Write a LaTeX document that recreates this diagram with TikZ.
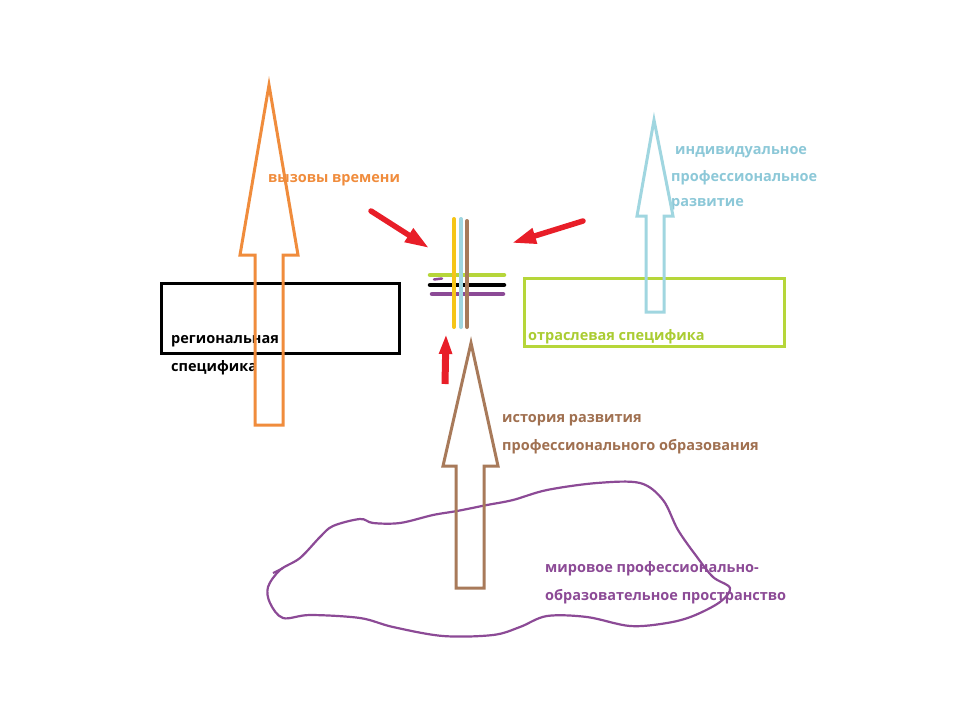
\documentclass[tikz,border=0pt]{standalone}
\usepackage{fontspec}
\setmainfont{Open Sans}
\usetikzlibrary{arrows.meta}
\definecolor{corange}{RGB}{240,140,60}
\definecolor{cblue}{RGB}{160,214,224}
\definecolor{cbluetext}{RGB}{140,200,216}
\definecolor{cgreen}{RGB}{182,214,58}
\definecolor{cgreentext}{RGB}{170,204,50}
\definecolor{cbrown}{RGB}{168,122,90}
\definecolor{cbrowntext}{RGB}{160,112,80}
\definecolor{cpurple}{RGB}{140,74,150}
\definecolor{cred}{RGB}{232,30,40}
\definecolor{cyellow}{RGB}{245,197,24}
\tikzset{
  lbl/.style={font=\fontsize{14.5}{16}\selectfont\bfseries, inner sep=0pt, anchor=west},
  bigarrow/.style={line width=3pt, line join=miter},
  redarrow/.style={cred, line width=5.5pt, -{Triangle[length=24pt,width=15pt]}},
  bar/.style={line width=4.5pt, line cap=round},
}
\begin{document}
\begin{tikzpicture}[x=1pt,y=-1pt]
\useasboundingbox[fill=white] (0,0) rectangle (960,720);

% boxes
\node[draw=black, line width=3pt, minimum width=238pt, minimum height=70pt, inner sep=0pt, anchor=north west] (regbox) at (160,282) {};
\node[draw=cgreen, line width=3pt, minimum width=260pt, minimum height=68pt, inner sep=0pt, anchor=north west] (otrbox) at (523,277) {};

% texts
\node[lbl, text=corange] (t1) at (268,180) {вызовы времени};
\node[lbl, text=black] (t2a) at (171,341) {региональная};
\node[lbl, text=black] (t2b) at (171,368) {специфика};
\node[lbl, text=cgreentext] (t3) at (528,337) {отраслевая специфика};
\node[lbl, text=cbluetext] (t4a) at (675,152) {индивидуальное};
\node[lbl, text=cbluetext] (t4b) at (671,178) {профессиональное};
\node[lbl, text=cbluetext] (t4c) at (671,204) {развитие};
\node[lbl, text=cbrowntext] (t5a) at (502,420) {история развития};
\node[lbl, text=cbrowntext] (t5b) at (502,447) {профессионального образования};
\node[lbl, text=cpurple] (t6a) at (545,569) {мировое профессионально-};
\node[lbl, text=cpurple] (t6b) at (545,597) {образовательное пространство};

% big outline arrows
\draw[bigarrow, corange] (255,425) -- (255,255) -- (240,255) -- (269,85) -- (298,255) -- (283,255) -- (283,425) -- cycle;
\draw[bigarrow, cblue] (646,312) -- (646,216) -- (637,216) -- (654,120) -- (673,216) -- (664,216) -- (664,312) -- cycle;

% world space blob
\draw[cpurple, line width=2.2pt, line join=round] plot[smooth cycle, tension=0.55] coordinates {
 (280,570) (300,558) (320,537) (333,526) (360,519) (373,523) (400,523) (433,515) (457,511)
 (487,505) (513,500) (547,490) (597,483) (640,483) (663,500) (678,530) (697,557) (713,577)
 (730,588) (720,602) (693,616) (667,623) (630,626) (587,617) (547,616) (520,627) (493,635)
 (443,636) (393,627) (360,618) (310,615) (283,618) (270,603) (268,587)};
\draw[cpurple, line width=2pt] (273,573) -- (283,568);

\draw[bigarrow, cbrown] (456,588) -- (456,466) -- (443,466) -- (471,343) -- (498,466) -- (484,466) -- (484,588) -- cycle;

% central cross
\draw[bar, cgreen] (430,275) -- (504,275);
\draw[bar, black] (430,285) -- (504,285);
\draw[bar, cpurple] (432,294) -- (503,294);
\draw[line width=2.5pt, cpurple, line cap=round] (434,279.5) -- (442,278.5);
\draw[line width=4pt, cyellow, line cap=round] (454,219) -- (454,327);
\draw[line width=4pt, cblue, line cap=round] (461,219) -- (461,327);
\draw[line width=4pt, cbrown, line cap=round] (467,221) -- (467,327);

% red arrows
\coordinate (r1s) at (371,211);
\coordinate (r1e) at (429,248);
\coordinate (r2s) at (583,221);
\coordinate (r2e) at (512,243);
\coordinate (r3s) at (445,384);
\coordinate (r3e) at (446,334);
\draw[redarrow, line cap=round] (r1s) -- (r1e);
\draw[redarrow, line cap=round] (r2s) -- (r2e);
\draw[redarrow, line width=7pt, -{Triangle[length=20pt,width=12pt]}] (r3s) -- (r3e);
\end{tikzpicture}
\end{document}
